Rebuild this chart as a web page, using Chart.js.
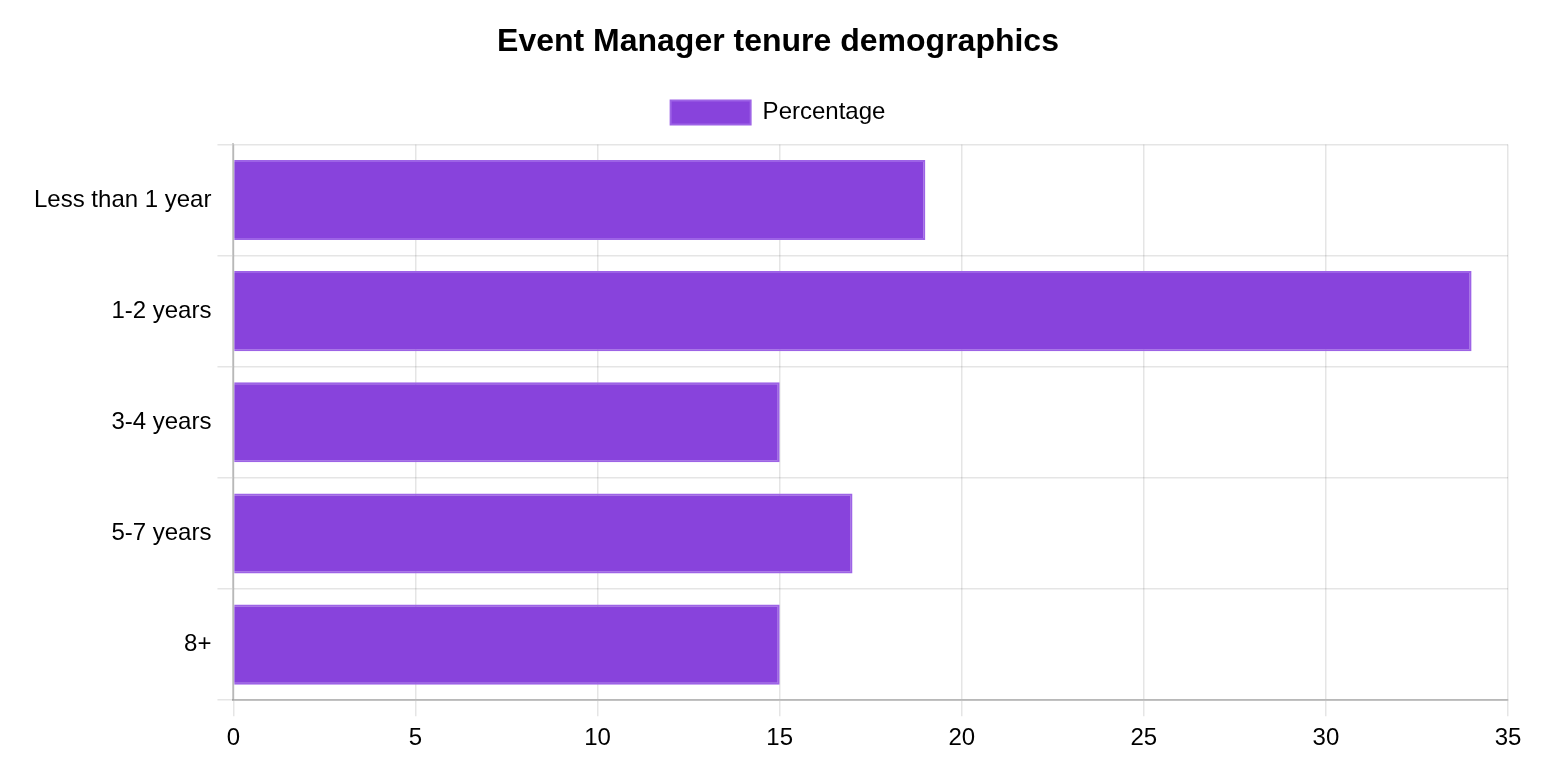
<!DOCTYPE html>
<html lang="en">
<head>
    <meta charset="UTF-8">
    <title>Event Manager tenure demographics</title>
    <script src="https://cdn.jsdelivr.net/npm/chart.js"></script>
    <style>
        body { margin: 0; background: #fff; }
        #wrap { position: relative; width: 1556px; height: 768px; }
    </style>
</head>
<body>
    <div id="wrap">
        <canvas id="tenureChart"></canvas>
    </div>

    <script>
        // data
        const categories = ['Less than 1 year', '1-2 years', '3-4 years', '5-7 years', '8+'];
        const percentages = [19, 34, 15, 17, 15];
        const seriesLabel = 'Percentage';

        Chart.defaults.font.family = '"Liberation Sans", Arial, sans-serif';
        Chart.defaults.font.size = 24;
        Chart.defaults.color = '#000';

        // a bit more room between the legend and the plot
        const legendSpacer = {
            id: 'legendSpacer',
            beforeInit(chart) {
                const origFit = chart.legend.fit;
                chart.legend.fit = function () {
                    origFit.bind(chart.legend)();
                    this.height += 10;
                };
            }
        };

        // centre title + legend on the whole canvas, not on the padded area
        const centreHeader = {
            id: 'centreHeader',
            afterLayout(chart) {
                [chart.titleBlock, chart.legend].forEach(box => {
                    if (!box) return;
                    box.left = 0;
                    box.right = chart.width;
                });
            }
        };

        const ctx = document.getElementById('tenureChart').getContext('2d');
        new Chart(ctx, {
            type: 'bar',
            data: {
                labels: categories,
                datasets: [{
                    label: seriesLabel,
                    data: percentages,
                    backgroundColor: '#8843dc',
                    borderColor: '#9d63e6',
                    borderWidth: 2
                }]
            },
            options: {
                indexAxis: 'y',
                responsive: true,
                maintainAspectRatio: false,
                animation: false,
                layout: { padding: { left: 28, right: 48, top: 23, bottom: 7 } },
                plugins: {
                    title: {
                        display: true,
                        text: 'Event Manager tenure demographics',
                        font: { size: 32, weight: 'bold' },
                        padding: { top: 0, bottom: 1 }
                    },
                    legend: {
                        labels: { boxWidth: 80, boxHeight: 24, padding: 38 }
                    }
                },
                scales: {
                    x: {
                        min: 0,
                        max: 35,
                        ticks: { stepSize: 5, padding: 8 },
                        grid: { tickLength: 16, color: 'rgba(0,0,0,0.1)', lineWidth: 1.5 },
                        border: { color: 'rgba(0,0,0,0.2)', width: 2 }
                    },
                    y: {
                        ticks: { padding: 6 },
                        grid: { tickLength: 16, color: 'rgba(0,0,0,0.1)', lineWidth: 1.5 },
                        border: { color: 'rgba(0,0,0,0.2)', width: 2 }
                    }
                }
            },
            plugins: [legendSpacer, centreHeader]
        });
    </script>
</body>
</html>
